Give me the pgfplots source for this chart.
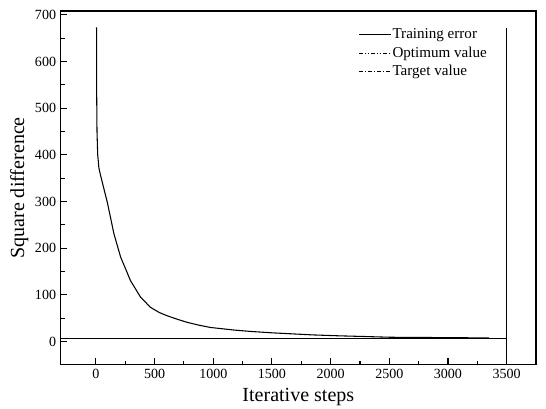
\documentclass[border=0pt]{standalone}
\usepackage{pgfplots}
\pgfplotsset{compat=1.18}
\usepackage{fontspec}
\setmainfont{Liberation Serif}
\begin{document}
\begin{tikzpicture}
\begin{axis}[
  width=356pt, height=265pt,
  scale only axis,
  xmin=-300, xmax=3750,
  ymin=-50, ymax=708,
  xtick={0,500,...,3500},
  ytick={0,100,...,700},
  minor tick num=1,
  tick align=inside,
  xtick pos=bottom, ytick pos=left,
  major tick length=5pt, minor tick length=3pt,
  axis line style={line width=1pt},
  every tick/.style={black, line width=0.8pt},
  /pgf/number format/assume math mode=true,
  /pgf/number format/1000 sep={},
  tick label style={font=\fontsize{10.5}{12}\selectfont},
  xlabel={Iterative steps},
  ylabel={Square difference},
  label style={font=\fontsize{15}{18}\selectfont},
  xlabel style={yshift=0pt},
  ylabel style={yshift=-2pt},
  legend style={draw=none, fill=none, at={(0.626,0.958)}, anchor=north west,
    font=\fontsize{11.3}{13.5}\selectfont, inner xsep=0pt, inner ysep=0pt,
    row sep=0.5pt, nodes={inner xsep=0.5pt}},
  legend cell align=left,
  legend image code/.code={\draw[#1] (0cm,0cm) -- (0.85cm,0cm);},
]
\addlegendimage{black, line width=0.8pt}
\addlegendentry{Training error}
\addlegendimage{black, line width=0.6pt, dash pattern=on 3pt off 1.5pt on 0.8pt off 1.5pt on 0.8pt off 1.5pt}
\addlegendentry{Optimum value}
\addlegendimage{black, line width=0.6pt, dash pattern=on 3pt off 1.5pt on 0.8pt off 1.5pt}
\addlegendentry{Target value}
\addplot[black, line width=0.8pt, forget plot] coordinates {
(5,673) (6,540) (9,450) (15,400) (25,372) (40,355) (97,298) (153,231)
(210,181) (295,130) (380,95) (465,73) (540,62) (607,55) (700,47) (777,41)
(875,35) (975,30) (1174,24.5) (1315,21.5) (1500,18.5) (1655,16.5) (1850,14)
(2081,12) (2300,10.5) (2506,9) (2800,8.5) (3100,8) (3350,7.5)
};
\addplot[black, line width=0.8pt, forget plot] coordinates {(-300,6) (3500,6)};
\addplot[black, line width=0.8pt, forget plot] coordinates {(3500,-50) (3500,672)};
\end{axis}
\pgfresetboundingbox
\path ([shift={(-45.5pt,-33pt)}]current axis.south west) rectangle ([shift={(7.5pt,8.25pt)}]current axis.north east);
\end{tikzpicture}
\end{document}
